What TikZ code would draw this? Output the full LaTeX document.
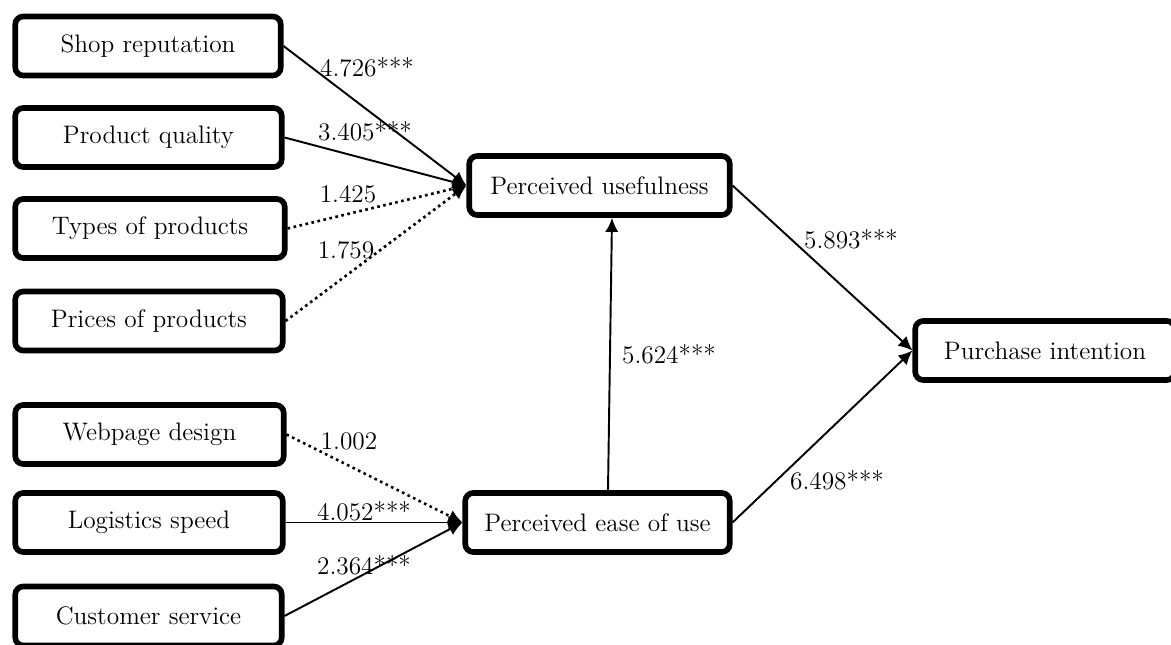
\documentclass[tikz,border=0pt]{standalone}
\usetikzlibrary{arrows.meta,calc}
\tikzset{
  construct/.style={draw, line width=3.2pt, rounded corners=4.5pt, fill=white,
    minimum height=1.18cm, inner sep=2pt, font=\Large},
  coef/.style={font=\Large, inner sep=1pt},
  path/.style={line width=1.1pt, -{Latex[length=8pt,width=7.5pt]}},
  weak/.style={path, line width=1.5pt, dotted}
}
\begin{document}
\begin{tikzpicture}[x=0.02cm,y=-0.02cm]
\useasboundingbox (0,0) rectangle (1171,645);
\clip (0,0) rectangle (1171,645);

% antecedents of perceived usefulness
\node[construct, minimum width=5.31cm] (sr) at (148,46) {Shop reputation};
\node[construct, minimum width=5.33cm] (pq) at (148.5,137.5) {Product quality};
\node[construct, minimum width=5.39cm] (tp) at (150,228.5) {Types of products};
\node[construct, minimum width=5.35cm] (pp) at (149,321) {Prices of products};

% antecedents of perceived ease of use
\node[construct, minimum width=5.37cm] (wd) at (149.5,434.5) {Webpage design};
\node[construct, minimum width=5.35cm] (ls) at (149,522.5) {Logistics speed};
\node[construct, minimum width=5.33cm] (cs) at (148.5,616) {Customer service};

% mediators and outcome
\node[construct, minimum width=5.21cm] (pu) at (599.5,185.5) {Perceived usefulness};
\node[construct, minimum width=5.29cm] (pe) at (597.5,522.5) {Perceived ease of use};
\node[construct, minimum width=5.19cm] (pi) at (1045,350.5) {Purchase intention};

% paths
\draw[path] (sr.east) -- (pu.west);
\draw[path] (pq.east) -- (pu.west);
\draw[weak] (tp.east) -- (pu.west);
\draw[weak] (pp.east) -- (pu.west);

\draw[weak] (wd.east) -- (pe.west);
\draw[path] (ls.east) -- (pe.west);
\draw[path] (cs.east) -- (pe.west);

\draw[path] ([xshift=10.5*0.02cm]pe.north) -- ([xshift=12.5*0.02cm]pu.south);
\draw[path] (pu.east) -- (pi.west);
\draw[path] (pe.east) -- (pi.west);

% path coefficients
\node[coef] (c1) at (367,67) {4.726***};
\node[coef] (c2) at (365,131) {3.405***};
\node[coef] (c3) at (348,194) {1.425};
\node[coef] (c4) at (346,250) {1.759};
\node[coef] (c5) at (349,441) {1.002};
\node[coef] (c6) at (364,511) {4.052***};
\node[coef] (c7) at (364,565) {2.364***};
\node[coef] (c8) at (851,239) {5.893***};
\node[coef] (c9) at (669,354) {5.624***};
\node[coef] (c10) at (837,480) {6.498***};
\end{tikzpicture}
\end{document}
